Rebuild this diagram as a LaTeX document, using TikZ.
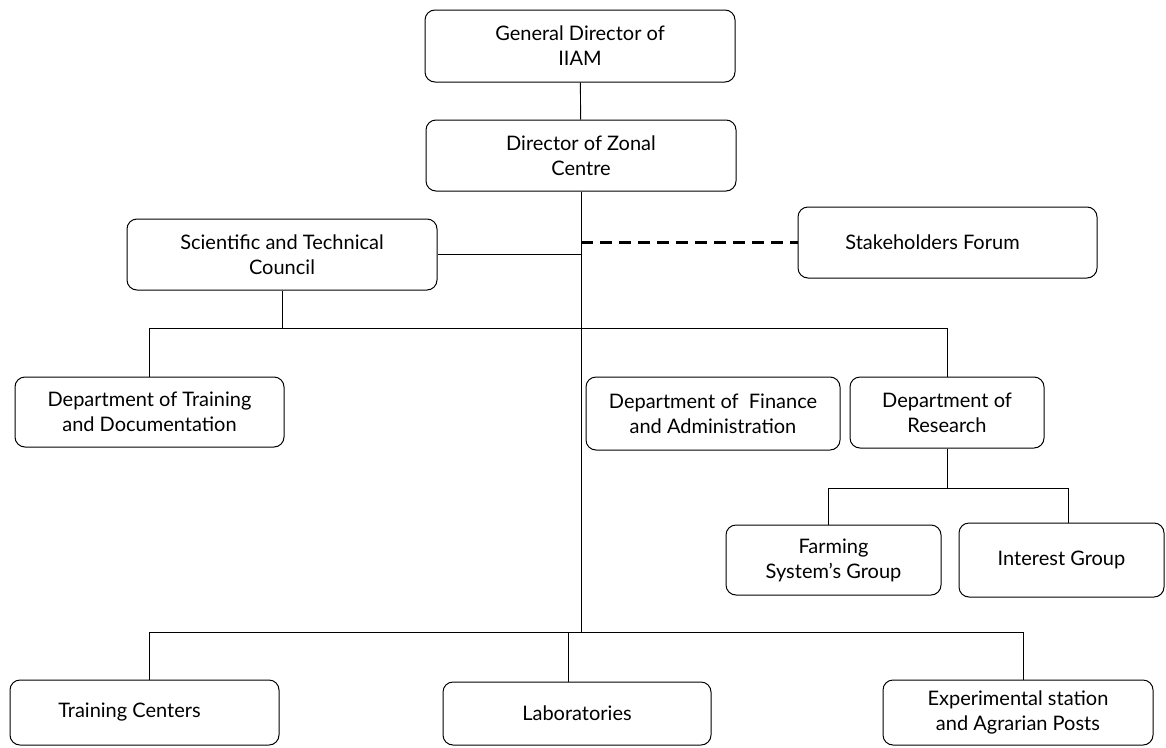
\documentclass[tikz,border=0pt]{standalone}
\usepackage{fontspec}
\setmainfont{Lato}
\usetikzlibrary{positioning,calc}

\begin{document}
\begin{tikzpicture}[x=1pt,y=-1pt,font=\fontsize{20}{25}\selectfont,
  every node/.style={align=center},
  unit/.style={draw,rounded corners=10pt,line width=1pt,inner sep=0pt},
  link/.style={line width=0.9pt}]
  \useasboundingbox (0,0) rectangle (1166,747);
  % top of the chart
  \node[unit,minimum width=310pt,minimum height=72pt] (gd) at (580,46) {General Director of\\ IIAM};
  \node[unit,minimum width=310pt,minimum height=71pt] (zc) at (581,155.5) {Director of Zonal\\ Centre};
  \node[unit,minimum width=310pt,minimum height=71pt] (stc) at (282,254.5) {Scientific and Technical\\ Council};
  \node[unit,minimum width=299pt,minimum height=71pt] (sf) at (947.5,242.5) {Stakeholders Forum\hspace*{30pt}};
  % departments
  \node[unit,minimum width=269pt,minimum height=70pt] (dtd) at (149.5,412) {Department of Training\\ and Documentation};
  \node[unit,minimum width=254pt,minimum height=73pt] (dfa) at (713,413.5) {Department of\ \ Finance\\ and Administration};
  \node[unit,minimum width=194pt,minimum height=71pt] (dr) at (947,412.5) {Department of\\ Research};
  \node[unit,minimum width=215pt,minimum height=70pt] (fsg) at (833.5,560) {Farming\\ System's Group};
  \node[unit,minimum width=205pt,minimum height=74pt] (ig) at (1061.5,560) {Interest Group};
  % bottom row
  \node[unit,minimum width=269pt,minimum height=65pt] (tc) at (144.5,712.5) {Training Centers\hspace*{30pt}};
  \node[unit,minimum width=268pt,minimum height=63pt] (lab) at (577,713.5) {Laboratories};
  \node[unit,minimum width=270pt,minimum height=65pt] (exp) at (1018,712.5) {Experimental station\\ and Agrarian Posts};

  \coordinate (bus) at (581,632);
  \draw[link] (gd) -- (zc);
  \draw[link] (zc.south) -- (bus);
  \draw[link] (stc.east) -- (stc.east -| zc.south);
  \draw[line width=2.5pt,dash pattern=on 12pt off 7pt] (sf.west -| zc.south) -- (sf.west);
  \draw[link] (stc.south) -- ++(0,38) coordinate (sb);
  \draw[link] (dtd.north) -- (dtd.north |- sb) -- (dr.north |- sb) -- (dr.north);
  \draw[link] (dr.south) -- ++(0,40) coordinate (rb);
  \draw[link] ([xshift=-5pt]fsg.north) -- ([xshift=-5pt]fsg.north |- rb) -- ([xshift=7pt]ig.north |- rb) -- ([xshift=7pt]ig.north);
  \draw[link] ([xshift=5pt]tc.north) -- ([xshift=5pt]tc.north |- bus) -- ([xshift=5pt]exp.north |- bus) -- ([xshift=5pt]exp.north);
  \draw[link] ([xshift=-9pt]lab.north) -- ([xshift=-9pt]lab.north |- bus);
\end{tikzpicture}
\end{document}
